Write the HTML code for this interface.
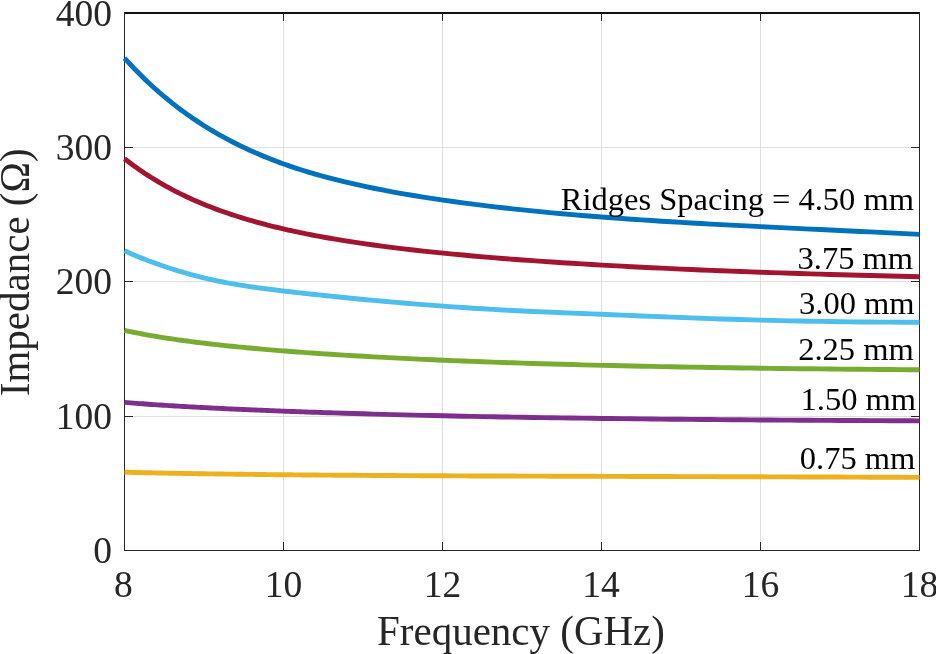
<!DOCTYPE html>
<html><head><meta charset="utf-8"><style>
html,body{margin:0;padding:0;background:#fff;width:936px;height:654px;overflow:hidden}
svg{display:block;will-change:transform}
text{font-family:"Liberation Serif",serif}
</style></head><body>
<svg width="936" height="654" viewBox="0 0 936 654">
<rect width="936" height="654" fill="#fff"/>
<rect x="283" y="14" width="1" height="536" fill="#dfdfdf"/>
<rect x="442" y="14" width="1" height="536" fill="#dfdfdf"/>
<rect x="601" y="14" width="1" height="536" fill="#dfdfdf"/>
<rect x="760" y="14" width="1" height="536" fill="#dfdfdf"/>
<rect x="125" y="147" width="794" height="1" fill="#dfdfdf"/>
<rect x="125" y="281" width="794" height="1" fill="#dfdfdf"/>
<rect x="125" y="416" width="794" height="1" fill="#dfdfdf"/>
<rect x="124" y="12" width="796" height="2" fill="#111111"/>
<rect x="124" y="12" width="1" height="539" fill="#262626"/>
<rect x="919" y="12" width="1" height="539" fill="#262626"/>
<rect x="124" y="550" width="796" height="1" fill="#262626"/>
<rect x="283" y="542" width="1" height="8" fill="#262626"/>
<rect x="283" y="14" width="1" height="7" fill="#262626"/>
<rect x="442" y="542" width="1" height="8" fill="#262626"/>
<rect x="442" y="14" width="1" height="7" fill="#262626"/>
<rect x="601" y="542" width="1" height="8" fill="#262626"/>
<rect x="601" y="14" width="1" height="7" fill="#262626"/>
<rect x="760" y="542" width="1" height="8" fill="#262626"/>
<rect x="760" y="14" width="1" height="7" fill="#262626"/>
<rect x="125" y="147" width="8" height="1" fill="#262626"/>
<rect x="911" y="147" width="8" height="1" fill="#262626"/>
<rect x="125" y="281" width="8" height="1" fill="#262626"/>
<rect x="911" y="281" width="8" height="1" fill="#262626"/>
<rect x="125" y="416" width="8" height="1" fill="#262626"/>
<rect x="911" y="416" width="8" height="1" fill="#262626"/>
<path d="M124.5 58.03 L127.5 61.32 L130.5 64.54 L133.4 67.70 L136.4 70.78 L139.4 73.80 L142.4 76.76 L145.3 79.65 L148.3 82.48 L151.3 85.25 L154.3 87.96 L157.3 90.62 L160.2 93.21 L163.2 95.75 L166.2 98.24 L169.2 100.68 L172.2 103.06 L175.1 105.40 L178.1 107.68 L181.1 109.92 L184.1 112.11 L187.0 114.25 L190.0 116.35 L193.0 118.40 L196.0 120.41 L199.0 122.38 L201.9 124.31 L204.9 126.20 L207.9 128.05 L210.9 129.86 L213.8 131.63 L216.8 133.36 L219.8 135.06 L222.8 136.72 L225.8 138.35 L228.7 139.94 L231.7 141.50 L234.7 143.03 L237.7 144.52 L240.7 145.98 L243.6 147.41 L246.6 148.81 L249.6 150.18 L252.6 151.52 L255.5 152.84 L258.5 154.12 L261.5 155.38 L264.5 156.61 L267.5 157.81 L270.4 158.99 L273.4 160.15 L276.4 161.28 L279.4 162.39 L282.3 163.47 L285.3 164.54 L288.3 165.58 L291.3 166.60 L294.3 167.60 L297.2 168.58 L300.2 169.54 L303.2 170.48 L306.2 171.40 L309.2 172.30 L312.1 173.19 L315.1 174.06 L318.1 174.91 L321.1 175.75 L324.0 176.56 L327.0 177.37 L330.0 178.16 L334.0 179.20 L343.9 181.66 L353.8 183.98 L363.8 186.17 L373.7 188.24 L383.6 190.20 L393.5 192.07 L403.5 193.84 L413.4 195.53 L423.3 197.14 L433.2 198.68 L443.2 200.14 L453.1 201.55 L463.0 202.89 L472.9 204.18 L482.9 205.42 L492.8 206.61 L502.7 207.75 L512.6 208.85 L522.6 209.90 L532.5 210.92 L542.4 211.90 L552.3 212.84 L562.2 213.75 L572.2 214.62 L582.1 215.46 L592.0 216.27 L601.9 217.06 L611.9 217.81 L621.8 218.53 L631.7 219.23 L641.6 219.90 L651.6 220.55 L661.5 221.19 L671.4 221.80 L681.3 222.39 L691.3 222.97 L701.2 223.53 L711.1 224.08 L721.0 224.62 L730.9 225.15 L740.9 225.66 L750.8 226.17 L760.7 226.67 L770.6 227.16 L780.6 227.65 L790.5 228.13 L800.4 228.61 L810.3 229.08 L820.3 229.55 L830.2 230.02 L840.1 230.50 L850.0 230.97 L860.0 231.44 L869.9 231.92 L879.8 232.40 L889.7 232.88 L899.7 233.37 L909.6 233.86 L919.5 234.36" fill="none" stroke="#0072BD" stroke-width="4.9" stroke-linejoin="round" stroke-linecap="butt"/>
<path d="M124.5 158.63 L127.5 160.95 L130.5 163.22 L133.4 165.43 L136.4 167.58 L139.4 169.68 L142.4 171.72 L145.3 173.71 L148.3 175.65 L151.3 177.55 L154.3 179.39 L157.3 181.19 L160.2 182.95 L163.2 184.66 L166.2 186.33 L169.2 187.96 L172.2 189.55 L175.1 191.10 L178.1 192.61 L181.1 194.09 L184.1 195.53 L187.0 196.94 L190.0 198.32 L193.0 199.66 L196.0 200.97 L199.0 202.25 L201.9 203.50 L204.9 204.73 L207.9 205.92 L210.9 207.09 L213.8 208.23 L216.8 209.34 L219.8 210.43 L222.8 211.50 L225.8 212.54 L228.7 213.56 L231.7 214.56 L234.7 215.54 L237.7 216.49 L240.7 217.43 L243.6 218.34 L246.6 219.24 L249.6 220.12 L252.6 220.98 L255.5 221.82 L258.5 222.64 L261.5 223.45 L264.5 224.24 L267.5 225.01 L270.4 225.77 L273.4 226.52 L276.4 227.25 L279.4 227.96 L282.3 228.66 L285.3 229.35 L288.3 230.03 L291.3 230.69 L294.3 231.34 L297.2 231.98 L300.2 232.60 L303.2 233.22 L306.2 233.82 L309.2 234.41 L312.1 234.99 L315.1 235.56 L318.1 236.12 L321.1 236.68 L324.0 237.22 L327.0 237.75 L330.0 238.27 L334.0 238.96 L343.9 240.60 L353.8 242.16 L363.8 243.63 L373.7 245.03 L383.6 246.37 L393.5 247.63 L403.5 248.84 L413.4 249.99 L423.3 251.10 L433.2 252.15 L443.2 253.16 L453.1 254.13 L463.0 255.06 L472.9 255.96 L482.9 256.82 L492.8 257.65 L502.7 258.44 L512.6 259.21 L522.6 259.96 L532.5 260.68 L542.4 261.37 L552.3 262.04 L562.2 262.69 L572.2 263.32 L582.1 263.92 L592.0 264.51 L601.9 265.08 L611.9 265.64 L621.8 266.17 L631.7 266.69 L641.6 267.20 L651.6 267.69 L661.5 268.17 L671.4 268.63 L681.3 269.08 L691.3 269.51 L701.2 269.94 L711.1 270.35 L721.0 270.75 L730.9 271.14 L740.9 271.51 L750.8 271.88 L760.7 272.24 L770.6 272.58 L780.6 272.92 L790.5 273.24 L800.4 273.56 L810.3 273.87 L820.3 274.16 L830.2 274.45 L840.1 274.73 L850.0 275.00 L860.0 275.27 L869.9 275.52 L879.8 275.77 L889.7 276.01 L899.7 276.24 L909.6 276.47 L919.5 276.68" fill="none" stroke="#A2142F" stroke-width="4.9" stroke-linejoin="round" stroke-linecap="butt"/>
<path d="M124.5 250.75 L127.5 252.10 L130.5 253.42 L133.4 254.71 L136.4 255.97 L139.4 257.19 L142.4 258.39 L145.3 259.56 L148.3 260.70 L151.3 261.82 L154.3 262.91 L157.3 263.98 L160.2 265.02 L163.2 266.05 L166.2 267.05 L169.2 268.02 L172.2 268.98 L175.1 269.92 L178.1 270.83 L181.1 271.72 L184.1 272.60 L187.0 273.45 L190.0 274.28 L193.0 275.09 L196.0 275.88 L199.0 276.64 L201.9 277.39 L204.9 278.11 L207.9 278.82 L210.9 279.50 L213.8 280.15 L216.8 280.79 L219.8 281.40 L222.8 282.00 L225.8 282.57 L228.7 283.12 L231.7 283.66 L234.7 284.18 L237.7 284.68 L240.7 285.17 L243.6 285.64 L246.6 286.10 L249.6 286.55 L252.6 286.99 L255.5 287.41 L258.5 287.82 L261.5 288.23 L264.5 288.62 L267.5 289.01 L270.4 289.39 L273.4 289.76 L276.4 290.13 L279.4 290.49 L282.3 290.85 L285.3 291.20 L288.3 291.55 L291.3 291.89 L294.3 292.24 L297.2 292.58 L300.2 292.91 L303.2 293.24 L306.2 293.57 L309.2 293.90 L312.1 294.22 L315.1 294.54 L318.1 294.86 L321.1 295.18 L324.0 295.49 L327.0 295.80 L330.0 296.11 L334.0 296.52 L343.9 297.52 L353.8 298.49 L363.8 299.44 L373.7 300.37 L383.6 301.27 L393.5 302.14 L403.5 302.99 L413.4 303.82 L423.3 304.62 L433.2 305.39 L443.2 306.14 L453.1 306.85 L463.0 307.54 L472.9 308.19 L482.9 308.82 L492.8 309.41 L502.7 309.96 L512.6 310.48 L522.6 310.97 L532.5 311.43 L542.4 311.87 L552.3 312.30 L562.2 312.71 L572.2 313.11 L582.1 313.51 L592.0 313.90 L601.9 314.30 L611.9 314.71 L621.8 315.12 L631.7 315.53 L641.6 315.95 L651.6 316.36 L661.5 316.76 L671.4 317.16 L681.3 317.54 L691.3 317.91 L701.2 318.27 L711.1 318.61 L721.0 318.94 L730.9 319.26 L740.9 319.56 L750.8 319.84 L760.7 320.11 L770.6 320.37 L780.6 320.61 L790.5 320.83 L800.4 321.04 L810.3 321.23 L820.3 321.41 L830.2 321.57 L840.1 321.71 L850.0 321.83 L860.0 321.94 L869.9 322.03 L879.8 322.10 L889.7 322.15 L899.7 322.18 L909.6 322.20 L919.5 322.19" fill="none" stroke="#4DBEEE" stroke-width="4.9" stroke-linejoin="round" stroke-linecap="butt"/>
<path d="M124.5 330.39 L127.5 331.03 L130.5 331.65 L133.4 332.26 L136.4 332.86 L139.4 333.43 L142.4 334.00 L145.3 334.55 L148.3 335.08 L151.3 335.61 L154.3 336.12 L157.3 336.62 L160.2 337.10 L163.2 337.58 L166.2 338.05 L169.2 338.50 L172.2 338.95 L175.1 339.38 L178.1 339.81 L181.1 340.23 L184.1 340.64 L187.0 341.04 L190.0 341.44 L193.0 341.82 L196.0 342.20 L199.0 342.57 L201.9 342.94 L204.9 343.30 L207.9 343.65 L210.9 343.99 L213.8 344.33 L216.8 344.67 L219.8 345.00 L222.8 345.32 L225.8 345.64 L228.7 345.95 L231.7 346.25 L234.7 346.56 L237.7 346.85 L240.7 347.15 L243.6 347.43 L246.6 347.72 L249.6 348.00 L252.6 348.27 L255.5 348.54 L258.5 348.81 L261.5 349.07 L264.5 349.33 L267.5 349.59 L270.4 349.84 L273.4 350.09 L276.4 350.34 L279.4 350.58 L282.3 350.82 L285.3 351.05 L288.3 351.28 L291.3 351.51 L294.3 351.74 L297.2 351.96 L300.2 352.18 L303.2 352.40 L306.2 352.62 L309.2 352.83 L312.1 353.04 L315.1 353.25 L318.1 353.45 L321.1 353.65 L324.0 353.85 L327.0 354.05 L330.0 354.24 L334.0 354.50 L343.9 355.12 L353.8 355.72 L363.8 356.30 L373.7 356.85 L383.6 357.39 L393.5 357.90 L403.5 358.39 L413.4 358.87 L423.3 359.33 L433.2 359.78 L443.2 360.20 L453.1 360.62 L463.0 361.01 L472.9 361.40 L482.9 361.77 L492.8 362.13 L502.7 362.47 L512.6 362.81 L522.6 363.13 L532.5 363.44 L542.4 363.74 L552.3 364.03 L562.2 364.30 L572.2 364.57 L582.1 364.83 L592.0 365.08 L601.9 365.33 L611.9 365.56 L621.8 365.78 L631.7 366.00 L641.6 366.21 L651.6 366.41 L661.5 366.61 L671.4 366.80 L681.3 366.98 L691.3 367.15 L701.2 367.32 L711.1 367.48 L721.0 367.64 L730.9 367.79 L740.9 367.93 L750.8 368.07 L760.7 368.21 L770.6 368.34 L780.6 368.46 L790.5 368.58 L800.4 368.69 L810.3 368.80 L820.3 368.91 L830.2 369.01 L840.1 369.11 L850.0 369.20 L860.0 369.29 L869.9 369.37 L879.8 369.46 L889.7 369.53 L899.7 369.61 L909.6 369.68 L919.5 369.75" fill="none" stroke="#77AC30" stroke-width="4.9" stroke-linejoin="round" stroke-linecap="butt"/>
<path d="M124.5 402.43 L127.5 402.67 L130.5 402.91 L133.4 403.14 L136.4 403.37 L139.4 403.59 L142.4 403.81 L145.3 404.02 L148.3 404.23 L151.3 404.44 L154.3 404.64 L157.3 404.84 L160.2 405.04 L163.2 405.23 L166.2 405.42 L169.2 405.61 L172.2 405.79 L175.1 405.98 L178.1 406.15 L181.1 406.33 L184.1 406.50 L187.0 406.67 L190.0 406.84 L193.0 407.01 L196.0 407.17 L199.0 407.33 L201.9 407.49 L204.9 407.65 L207.9 407.80 L210.9 407.96 L213.8 408.11 L216.8 408.26 L219.8 408.40 L222.8 408.55 L225.8 408.69 L228.7 408.83 L231.7 408.97 L234.7 409.11 L237.7 409.25 L240.7 409.38 L243.6 409.52 L246.6 409.65 L249.6 409.78 L252.6 409.91 L255.5 410.03 L258.5 410.16 L261.5 410.28 L264.5 410.41 L267.5 410.53 L270.4 410.65 L273.4 410.77 L276.4 410.88 L279.4 411.00 L282.3 411.11 L285.3 411.23 L288.3 411.34 L291.3 411.45 L294.3 411.56 L297.2 411.67 L300.2 411.78 L303.2 411.88 L306.2 411.99 L309.2 412.09 L312.1 412.19 L315.1 412.30 L318.1 412.40 L321.1 412.50 L324.0 412.59 L327.0 412.69 L330.0 412.79 L334.0 412.92 L343.9 413.22 L353.8 413.52 L363.8 413.81 L373.7 414.09 L383.6 414.36 L393.5 414.62 L403.5 414.87 L413.4 415.11 L423.3 415.34 L433.2 415.57 L443.2 415.79 L453.1 416.00 L463.0 416.20 L472.9 416.40 L482.9 416.59 L492.8 416.77 L502.7 416.95 L512.6 417.12 L522.6 417.29 L532.5 417.45 L542.4 417.60 L552.3 417.75 L562.2 417.90 L572.2 418.04 L582.1 418.17 L592.0 418.30 L601.9 418.43 L611.9 418.55 L621.8 418.67 L631.7 418.78 L641.6 418.89 L651.6 419.00 L661.5 419.10 L671.4 419.20 L681.3 419.29 L691.3 419.39 L701.2 419.48 L711.1 419.56 L721.0 419.65 L730.9 419.73 L740.9 419.80 L750.8 419.88 L760.7 419.95 L770.6 420.02 L780.6 420.09 L790.5 420.16 L800.4 420.22 L810.3 420.28 L820.3 420.34 L830.2 420.40 L840.1 420.45 L850.0 420.50 L860.0 420.56 L869.9 420.61 L879.8 420.65 L889.7 420.70 L899.7 420.75 L909.6 420.79 L919.5 420.83" fill="none" stroke="#7E2F8E" stroke-width="4.9" stroke-linejoin="round" stroke-linecap="butt"/>
<path d="M124.5 472.21 L127.5 472.29 L130.5 472.36 L133.4 472.43 L136.4 472.50 L139.4 472.56 L142.4 472.63 L145.3 472.70 L148.3 472.76 L151.3 472.82 L154.3 472.89 L157.3 472.95 L160.2 473.01 L163.2 473.06 L166.2 473.12 L169.2 473.18 L172.2 473.23 L175.1 473.29 L178.1 473.34 L181.1 473.40 L184.1 473.45 L187.0 473.50 L190.0 473.55 L193.0 473.60 L196.0 473.65 L199.0 473.69 L201.9 473.74 L204.9 473.79 L207.9 473.83 L210.9 473.88 L213.8 473.92 L216.8 473.96 L219.8 474.00 L222.8 474.04 L225.8 474.09 L228.7 474.12 L231.7 474.16 L234.7 474.20 L237.7 474.24 L240.7 474.28 L243.6 474.31 L246.6 474.35 L249.6 474.39 L252.6 474.42 L255.5 474.45 L258.5 474.49 L261.5 474.52 L264.5 474.55 L267.5 474.59 L270.4 474.62 L273.4 474.65 L276.4 474.68 L279.4 474.71 L282.3 474.74 L285.3 474.77 L288.3 474.79 L291.3 474.82 L294.3 474.85 L297.2 474.88 L300.2 474.90 L303.2 474.93 L306.2 474.96 L309.2 474.98 L312.1 475.01 L315.1 475.03 L318.1 475.05 L321.1 475.08 L324.0 475.10 L327.0 475.12 L330.0 475.15 L334.0 475.18 L343.9 475.25 L353.8 475.32 L363.8 475.38 L373.7 475.44 L383.6 475.50 L393.5 475.56 L403.5 475.61 L413.4 475.66 L423.3 475.71 L433.2 475.76 L443.2 475.80 L453.1 475.85 L463.0 475.89 L472.9 475.93 L482.9 475.96 L492.8 476.00 L502.7 476.04 L512.6 476.07 L522.6 476.11 L532.5 476.14 L542.4 476.17 L552.3 476.20 L562.2 476.23 L572.2 476.26 L582.1 476.29 L592.0 476.32 L601.9 476.35 L611.9 476.38 L621.8 476.41 L631.7 476.44 L641.6 476.47 L651.6 476.49 L661.5 476.52 L671.4 476.55 L681.3 476.58 L691.3 476.60 L701.2 476.63 L711.1 476.66 L721.0 476.69 L730.9 476.72 L740.9 476.75 L750.8 476.78 L760.7 476.81 L770.6 476.84 L780.6 476.87 L790.5 476.90 L800.4 476.93 L810.3 476.97 L820.3 477.00 L830.2 477.04 L840.1 477.07 L850.0 477.11 L860.0 477.14 L869.9 477.18 L879.8 477.22 L889.7 477.26 L899.7 477.30 L909.6 477.34 L919.5 477.38" fill="none" stroke="#EDB120" stroke-width="4.9" stroke-linejoin="round" stroke-linecap="butt"/>
<text x="111.9" y="25.60" text-anchor="end" font-size="37.5" fill="#262626">400</text>
<text x="111.9" y="159.85" text-anchor="end" font-size="37.5" fill="#262626">300</text>
<text x="111.9" y="294.35" text-anchor="end" font-size="37.5" fill="#262626">200</text>
<text x="111.9" y="428.70" text-anchor="end" font-size="37.5" fill="#262626">100</text>
<text x="111.9" y="563.10" text-anchor="end" font-size="37.5" fill="#262626">0</text>
<text x="123.3" y="597" text-anchor="middle" font-size="37.5" fill="#262626">8</text>
<text x="283.5" y="597" text-anchor="middle" font-size="37.5" fill="#262626">10</text>
<text x="442.5" y="597" text-anchor="middle" font-size="37.5" fill="#262626">12</text>
<text x="601.1" y="597" text-anchor="middle" font-size="37.5" fill="#262626">14</text>
<text x="760.5" y="597" text-anchor="middle" font-size="37.5" fill="#262626">16</text>
<text x="919.5" y="597" text-anchor="middle" font-size="37.5" fill="#262626">18</text>
<text transform="translate(521,645) scale(0.976,1)" text-anchor="middle" font-size="42" fill="#262626">Frequency (GHz)</text>
<text transform="translate(28.9,272.3) rotate(-90) scale(0.976,1)" text-anchor="middle" font-size="42" fill="#262626">Impedance (&#937;)</text>
<text x="560.8" y="209.7" font-size="32.5" fill="#000">Ridges Spacing = 4.50 mm</text>
<text x="797.5" y="268.8" font-size="32.5" fill="#000">3.75 mm</text>
<text x="799.1" y="313.8" font-size="32.5" fill="#000">3.00 mm</text>
<text x="798.2" y="359.5" font-size="32.5" fill="#000">2.25 mm</text>
<text x="800.5" y="409.5" font-size="32.5" fill="#000">1.50 mm</text>
<text x="799.8" y="468.8" font-size="32.5" fill="#000">0.75 mm</text>
</svg>
</body></html>
